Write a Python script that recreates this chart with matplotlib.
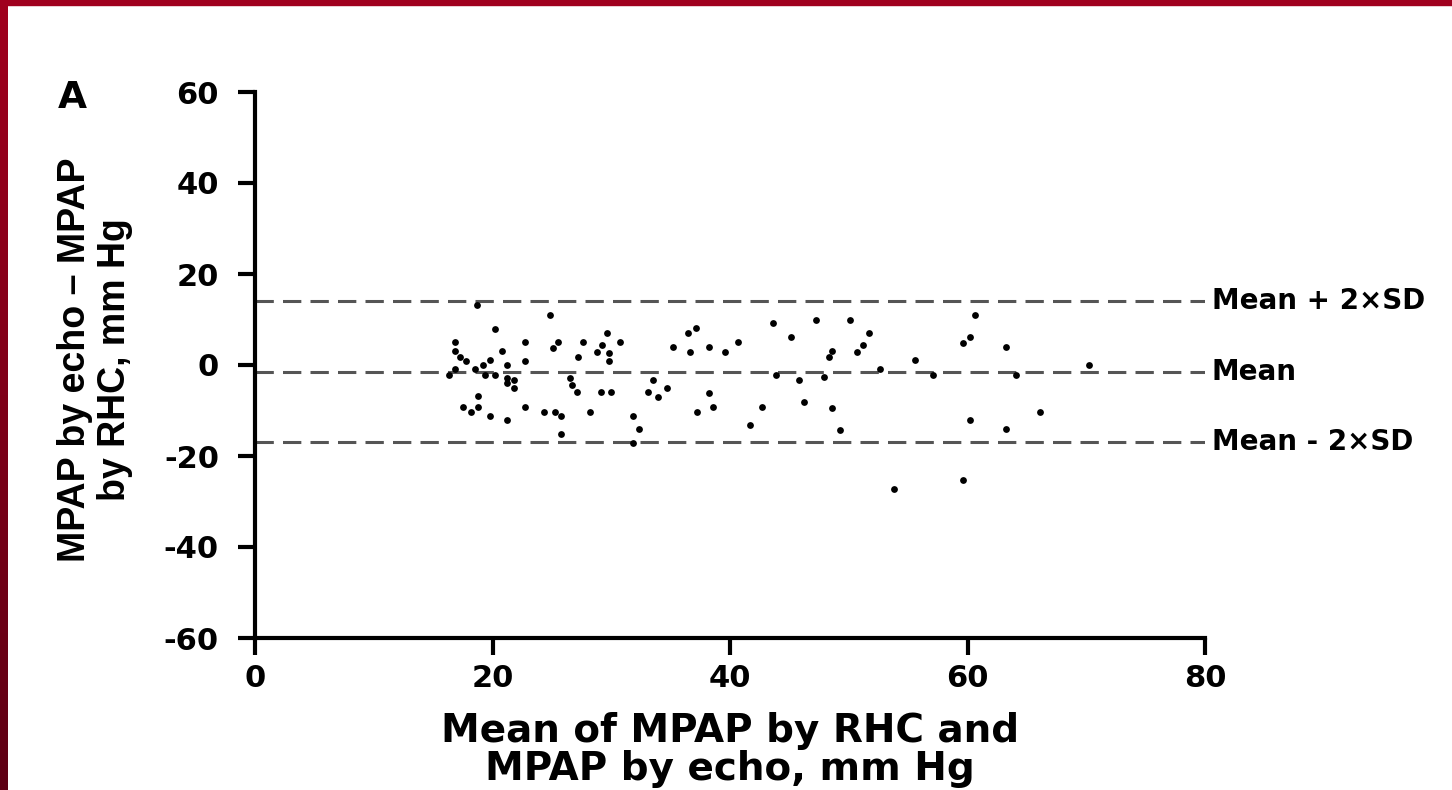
import numpy as np
import matplotlib
matplotlib.use("Agg")
import matplotlib.pyplot as plt

plt.rcParams['font.family'] = ['DejaVu Sans']
plt.rcParams['font.weight'] = 'bold'
plt.rcParams['axes.unicode_minus'] = False

# mean of MPAP by RHC and echo (x), difference echo - RHC (y)
mean_mpap = [18.7, 24.8, 20.2, 16.8, 16.8, 17.3, 17.8, 16.3, 16.8, 18.5,
             19.2, 19.8, 20.8, 21.2, 19.4, 20.2, 21.2, 21.8, 21.2, 21.8,
             22.7, 22.7, 25.5, 25.1, 27.6, 27.2, 29.6, 29.2, 28.8, 29.8,
             29.8, 26.5, 26.7, 27.1, 29.1, 30.0, 18.8, 17.5, 18.2, 18.8,
             19.8, 21.2, 22.7, 24.3, 25.3, 25.8, 28.2, 25.8,
             30.7, 37.1, 36.5, 35.2, 36.6, 38.2, 39.6, 40.7, 43.6, 43.9,
             33.5, 34.7, 33.1, 33.9, 38.2, 38.6, 37.2, 42.7, 41.7, 31.8,
             32.3, 31.8,
             47.2, 50.1, 45.1, 51.7, 48.6, 48.3, 51.2, 50.7, 55.6, 45.8,
             47.9, 52.6, 57.1, 46.2, 48.6, 49.3,
             60.6, 60.2, 59.6, 63.2, 64.1, 70.2, 66.1, 60.2, 63.2, 59.6,
             53.8]
diff_mpap = [13.2, 11.0, 7.9, 5.1, 3.1, 1.8, 0.9, -2.2, -0.9, -0.9,
             0.0, 1.1, 3.1, 0.0, -2.2, -2.2, -2.9, -3.3, -4.0, -5.1,
             5.1, 0.9, 5.1, 3.7, 5.1, 1.8, 7.1, 4.4, 2.9, 2.6,
             0.9, -2.9, -4.4, -5.9, -5.9, -5.9, -6.8, -9.2, -10.3, -9.2,
             -11.2, -12.0, -9.2, -10.3, -10.3, -11.2, -10.3, -15.2,
             5.1, 8.1, 7.0, 3.9, 2.9, 3.9, 2.9, 5.1, 9.2, -2.2,
             -3.2, -5.1, -5.9, -7.1, -6.1, -9.2, -10.3, -9.2, -13.2, -11.2,
             -14.1, -17.2,
             10.0, 10.0, 6.1, 7.1, 3.1, 1.8, 4.4, 2.9, 1.1, -3.2,
             -2.7, -0.9, -2.2, -8.1, -9.5, -14.3,
             11.0, 6.2, 4.9, 3.9, -2.2, 0.0, -10.3, -12.0, -14.1, -25.3,
             -27.3]

mean_diff = -1.5
upper_loa = 14.0
lower_loa = -17.0
line_labels = ['Mean + 2×SD', 'Mean', 'Mean - 2×SD']

fig = plt.figure(figsize=(14.52, 7.90), dpi=100)

# red frame from the slide
bg = fig.add_axes([0, 0, 1, 1], zorder=-10)
grad = np.linspace(0, 1, 256).reshape(-1, 1)
bg.imshow(grad, extent=[0, 8 / 1452, 0, 1], aspect='auto',
          cmap=matplotlib.colors.LinearSegmentedColormap.from_list('r', ['#a0001e', '#5e0014']))
bg.axhspan(1 - 5 / 790, 1, color='#a0001e')
bg.set_xlim(0, 1)
bg.set_ylim(0, 1)
bg.axis('off')

ax = fig.add_axes([255 / 1452, 1 - 638 / 790, 950 / 1452, 546 / 790])
ax.scatter(mean_mpap, diff_mpap, s=24, c='black', marker='o', linewidths=0, zorder=3)

for yv, lab in zip([upper_loa, mean_diff, lower_loa], line_labels):
    ax.axhline(yv, color='#555555', linestyle=(0, (6, 3)), linewidth=2.2, zorder=2)
    ax.text(1.007, yv, lab, transform=ax.get_yaxis_transform(), ha='left', va='center',
            fontsize=20, fontweight='bold', clip_on=False)

ax.set_xlim(0, 80)
ax.set_ylim(-60, 60)
ax.set_xticks([0, 20, 40, 60, 80])
ax.set_yticks([-60, -40, -20, 0, 20, 40, 60])
for s in ['top', 'right']:
    ax.spines[s].set_visible(False)
for s in ['left', 'bottom']:
    ax.spines[s].set_linewidth(3)
ax.tick_params(width=3, length=12, labelsize=22)
ax.tick_params(axis='x', pad=7)
ax.tick_params(axis='y', pad=14)

fig.text(730 / 1452, 1 - 750 / 790, 'Mean of MPAP by RHC and\nMPAP by echo, mm Hg',
         fontsize=28, fontweight='bold', ha='center', va='center', linespacing=1.0)
fig.text(95 / 1452, 1 - 360 / 790, 'MPAP by echo – MPAP\nby RHC, mm Hg',
         family=['Liberation Sans', 'DejaVu Sans'], fontsize=27, fontweight='bold',
         rotation=90, ha='center', va='center', linespacing=1.15)

fig.text(72 / 1452, 1 - 98 / 790, 'A', fontsize=27, fontweight='bold',
         ha='center', va='center')

fig.savefig('out.png', dpi=100)
